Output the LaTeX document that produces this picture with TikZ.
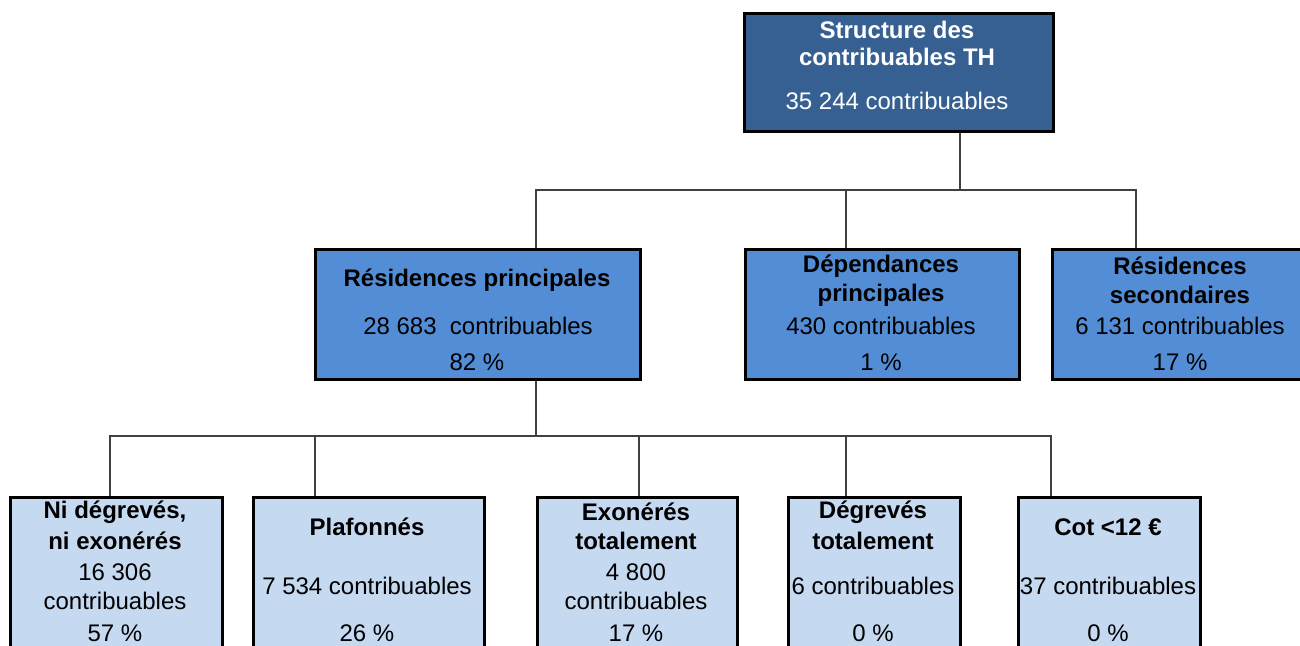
\documentclass[tikz,border=0pt]{standalone}
\usepackage{fontspec}
\setmainfont{Liberation Sans}
\definecolor{topblue}{RGB}{54,96,146}
\definecolor{midblue}{RGB}{83,141,213}
\definecolor{lowblue}{RGB}{197,217,241}
\definecolor{connc}{RGB}{64,64,64}
\begin{document}
\begin{tikzpicture}[x=0.5pt,y=-0.5pt,
  box/.style={draw=black,line width=1.5pt,rectangle,anchor=north west,inner sep=0pt},
  conn/.style={draw=connc,line width=1pt},
  t/.style={font=\fontsize{12}{14}\selectfont,inner sep=0pt,anchor=center},
  tb/.style={t,font=\fontsize{12}{14}\selectfont\bfseries},
  tw/.style={t,text=white},
  tbw/.style={tb,text=white}]
\useasboundingbox (0,0) rectangle (1300,645);
\clip (0,0) rectangle (1300,645);
% boxes
\node[box,fill=topblue,minimum width=154.5pt,minimum height=59pt] (top) at (743,12) {};
\node[box,fill=midblue,minimum width=162.5pt,minimum height=65pt] (rp) at (314,248) {};
\node[box,fill=midblue,minimum width=137pt,minimum height=65pt] (dp) at (744,248) {};
\node[box,fill=midblue,minimum width=140pt,minimum height=65pt] (rs) at (1051,248) {};
\node[box,fill=lowblue,minimum width=106pt,minimum height=110pt] (b1) at (9,496) {};
\node[box,fill=lowblue,minimum width=115.5pt,minimum height=110pt] (b2) at (252,496) {};
\node[box,fill=lowblue,minimum width=100pt,minimum height=110pt] (b3) at (536,496) {};
\node[box,fill=lowblue,minimum width=86pt,minimum height=110pt] (b4) at (787,496) {};
\node[box,fill=lowblue,minimum width=91pt,minimum height=110pt] (b5) at (1017,496) {};
% junctions
\coordinate (j1) at (960,190);
\coordinate (x1) at (536,0);
\coordinate (x2) at (846,0);
\coordinate (x3) at (1136,0);
\coordinate (j2) at (536,436);
\coordinate (y1) at (110,0);
\coordinate (y2) at (315,0);
\coordinate (y3) at (639,0);
\coordinate (y4) at (846,0);
\coordinate (y5) at (1051,0);
% connectors level 1
\draw[conn] (top.south -| j1) -- (j1);
\draw[conn] (rp.north -| x1) -- (x1 |- j1) -- (x3 |- j1) -- (rs.north -| x3);
\draw[conn] (dp.north -| x2) -- (x2 |- j1);
% connectors level 2
\draw[conn] (rp.south -| j2) -- (j2);
\draw[conn] (b1.north -| y1) -- (y1 |- j2) -- (y5 |- j2) -- (b5.north -| y5);
\draw[conn] (b2.north -| y2) -- (y2 |- j2);
\draw[conn] (b3.north -| y3) -- (y3 |- j2);
\draw[conn] (b4.north -| y4) -- (y4 |- j2);
% texts top
\node[tbw] (t1a) at (897,30) {Structure des};
\node[tbw] (t1b) at (897,57) {contribuables TH};
\node[tw] (t1c) at (897,101) {35 244 contribuables};
% middle
\node[tb] (rpa) at (477,280) {Résidences principales};
\node[t] (rpb) at (478,326) {28 683\ \ contribuables};
\node[t] (rpc) at (477,362) {82 \%};
\node[tb] (dpa) at (881,266) {Dépendances};
\node[tb] (dpb) at (881,295) {principales};
\node[t] (dpc) at (881,326) {430 contribuables};
\node[t] (dpd) at (881,362) {1 \%};
\node[tb] (rsa) at (1180,266) {Résidences};
\node[tb] (rsb) at (1180,295) {secondaires};
\node[t] (rsc) at (1180,326) {6 131 contribuables};
\node[t] (rsd) at (1180,362) {17 \%};
% bottom
\node[tb] (b1a) at (115,512) {Ni dégrevés,};
\node[tb] (b1b) at (115,541) {ni exonérés};
\node[t] (b1c) at (115,572) {16 306};
\node[t] (b1d) at (115,601) {contribuables};
\node[t] (b1e) at (115,633) {57 \%};
\node[tb] (b2a) at (367,527) {Plafonnés};
\node[t] (b2b) at (367,586) {7 534 contribuables};
\node[t] (b2c) at (367,633) {26 \%};
\node[tb] (b3a) at (636,512) {Exonérés};
\node[tb] (b3b) at (636,541) {totalement};
\node[t] (b3c) at (636,572) {4 800};
\node[t] (b3d) at (636,601) {contribuables};
\node[t] (b3e) at (636,633) {17 \%};
\node[tb] (b4a) at (873,512) {Dégrevés};
\node[tb] (b4b) at (873,541) {totalement};
\node[t] (b4c) at (873,586) {6 contribuables};
\node[t] (b4d) at (873,633) {0 \%};
\node[tb] (b5a) at (1108,527) {Cot <12 €};
\node[t] (b5b) at (1108,586) {37 contribuables};
\node[t] (b5c) at (1108,633) {0 \%};
\end{tikzpicture}
\end{document}
